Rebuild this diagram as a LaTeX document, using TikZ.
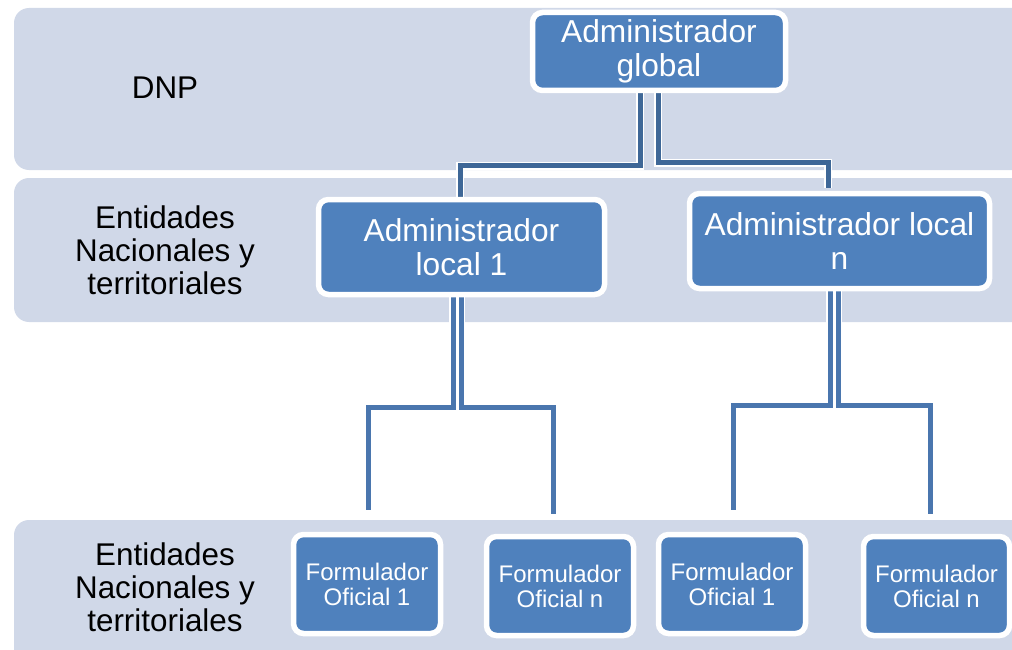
\documentclass[tikz,border=0pt]{standalone}
\usepackage{fontspec}
\setmainfont{Liberation Sans}
\definecolor{bandgray}{HTML}{D0D8E8}
\definecolor{boxblue}{HTML}{4F81BD}
\definecolor{topline}{HTML}{3E6797}
\definecolor{lowline}{HTML}{4A76AE}
\pgfdeclarelayer{bandlayer}
\pgfdeclarelayer{linelayer}
\pgfsetlayers{bandlayer,linelayer,main}
\begin{document}
\begin{tikzpicture}[x=1pt,y=-1pt,
  bandbox/.style={fill=bandgray, rounded corners=15pt},
  admin/.style={draw=white, line width=5.5pt, fill=boxblue, rounded corners=10pt, text=white, align=center, inner sep=0pt, font=\fontsize{31.7}{34}\selectfont},
  formu/.style={admin, font=\fontsize{24}{25}\selectfont, minimum width=147pt, minimum height=99pt},
  bandlabel/.style={align=center, text=black, font=\fontsize{31.4}{33}\selectfont},
  topconn/.style={draw=topline, line width=5pt, preaction={draw=white, line width=7.5pt}},
  lowconn/.style={draw=lowline, line width=5pt, preaction={draw=white, line width=7.5pt}}]
\useasboundingbox (0,0) rectangle (1012,650);
\begin{pgfonlayer}{bandlayer}
  \clip (0,0) rectangle (1012,650);
  \fill[white] (0,0) rectangle (1012,650);
  \path[bandbox] (14,8) rectangle (1045,170);
  \path[bandbox] (14,178) rectangle (1045,322);
  \path[bandbox] (14,520) rectangle (1045,690);
\end{pgfonlayer}
% band labels
\node[bandlabel] (dnp) at (165,88) {DNP};
\node[bandlabel] (ent1) at (165,250) {Entidades\\Nacionales y\\territoriales};
\node[bandlabel] (ent2) at (165,587) {Entidades\\Nacionales y\\territoriales};
% boxes
\node[admin, minimum width=253pt, minimum height=78pt] (g) at (659,51.5) {Administrador\\global};
\node[admin, minimum width=286pt, minimum height=95pt] (l1) at (461.5,247) {Administrador\\local 1};
\node[admin, minimum width=300pt, minimum height=95pt] (ln) at (839.5,241) {Administrador local\\n};
\node[formu] (f1) at (367,584) {Formulador\\Oficial 1};
\node[formu] (f2) at (560,586) {Formulador\\Oficial n};
\node[formu] (f3) at (732,584) {Formulador\\Oficial 1};
\node[formu, minimum width=146pt] (f4) at (936.5,586) {Formulador\\Oficial n};
% connectors
\begin{pgfonlayer}{linelayer}
  \draw[topconn] ([xshift=-19pt]g.south) -- ++(0,72.5) -| ([xshift=-1.5pt]l1.north);
  \draw[topconn] ([xshift=-1pt]g.south) -- ++(0,69.5) -| ([xshift=-11.5pt,yshift=3pt]ln.north);
  \draw[lowconn] ([xshift=-8.5pt]l1.south) -- ++(0,110.5) -| ([xshift=1pt,yshift=21.5pt]f1.north);
  \draw[lowconn] ([xshift=-0.5pt]l1.south) -- ++(0,110.5) -| ([xshift=-7pt,yshift=19.5pt]f2.north);
  \draw[lowconn] ([xshift=-9.5pt]ln.south) -- ++(0,114.5) -| ([xshift=1pt,yshift=21.5pt]f3.north);
  \draw[lowconn] ([xshift=-1.5pt]ln.south) -- ++(0,114.5) -| ([xshift=-6.5pt,yshift=19.5pt]f4.north);
\end{pgfonlayer}
\end{tikzpicture}
\end{document}
